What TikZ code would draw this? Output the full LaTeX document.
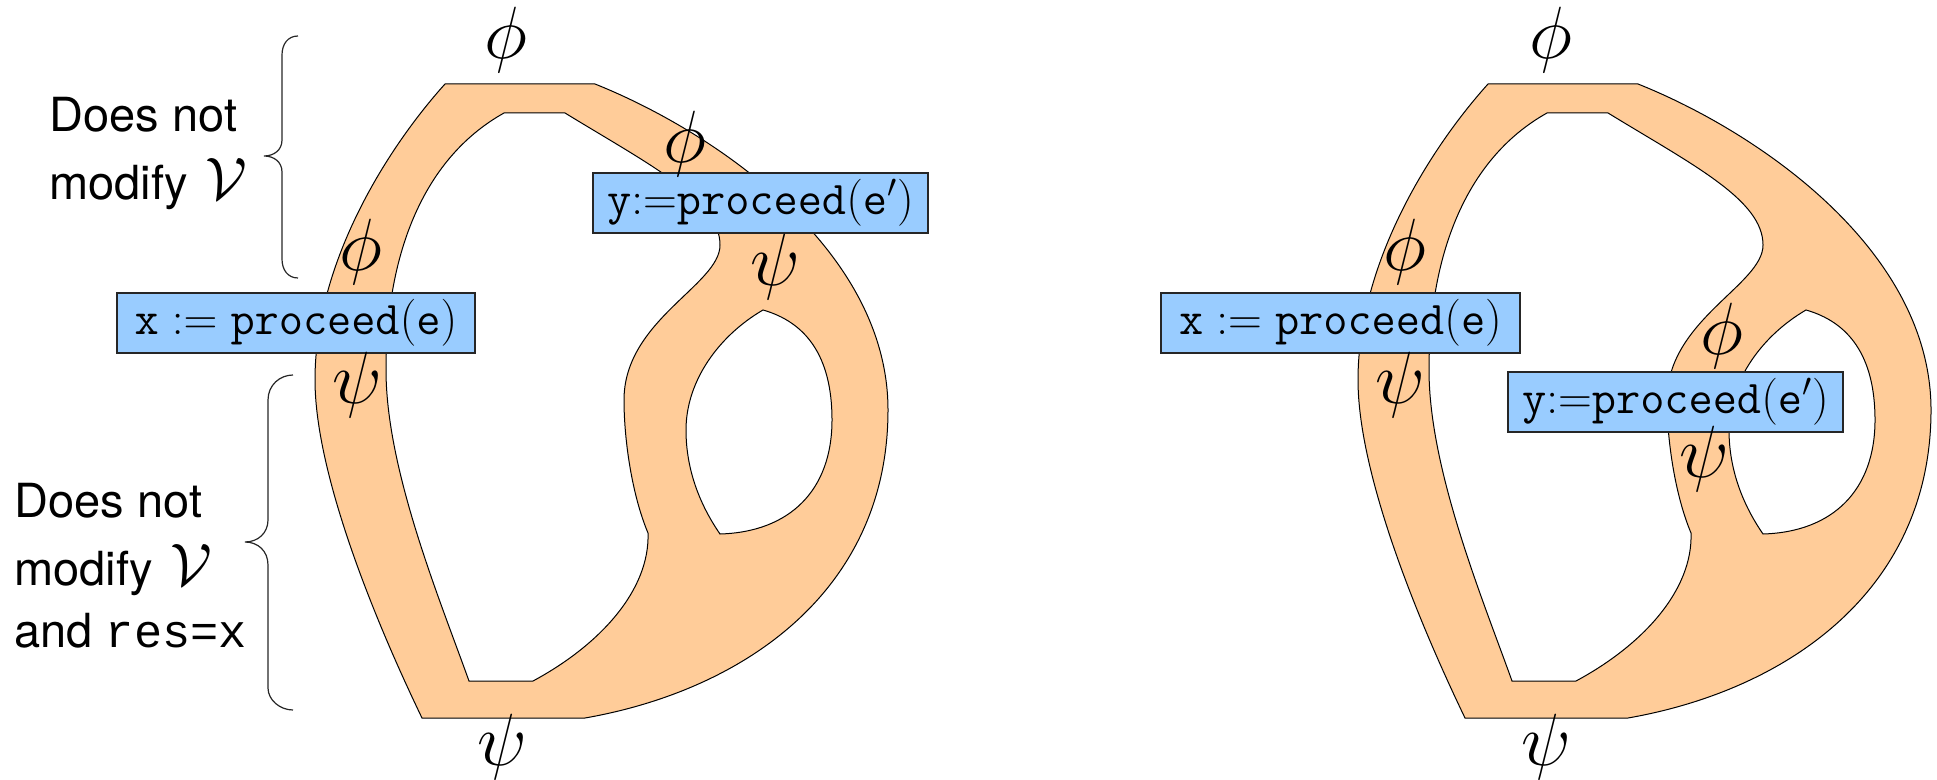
\RequirePackage{fix-cm}
\documentclass[tikz,border=0pt]{standalone}
\usepackage[no-math]{fontspec}
\newfontfamily\helv{TeX Gyre Heros}
\newfontfamily\courfont{Liberation Mono}
\definecolor{bandfill}{RGB}{255,204,153}
\definecolor{boxblue}{RGB}{153,204,255}
\newcommand\calV{\hspace{9pt}{\fontsize{30}{32}\selectfont$\mathcal{V}$}}
\tikzset{
  band/.style={fill=bandfill, draw=black, line width=0.5pt, even odd rule, line join=miter},
  codebox/.style={draw=black!85, fill=boxblue, line width=0.6pt, inner sep=0pt,
    minimum height=30pt, font=\fontsize{23.5}{28}\selectfont},
  greek/.style={inner sep=0pt, font=\fontsize{37}{40}\selectfont},
  sidetext/.style={anchor=base west, inner sep=0pt, font=\fontsize{23.5}{28}\selectfont\helv},
  bracket/.style={draw=black!85, line width=0.6pt}
}
\begin{document}
\begin{tikzpicture}[x=0.5pt, y=-0.5pt]
\useasboundingbox (0,0) rectangle (1937,780);

% the two bands, each with a large and a small hole
\foreach \dx in {0,1043} {
\begin{scope}[shift={(\dx,0)}]
\path[band]
  % outer rim
  (445,84) -- (595,84)
  .. controls (715,132) and (888,250) .. (888,410)
  .. controls (888,590) and (745,690) .. (585,718)
  -- (422,718)
  .. controls (370,610) and (315,470) .. (315,380)
  .. controls (315,260) and (390,145) .. (445,84)
  -- cycle
  % large hole
  (504,113) -- (565,113)
  .. controls (650,165) and (720,200) .. (720,245)
  .. controls (720,285) and (624,320) .. (624,400)
  .. controls (624,440) and (632,495) .. (648,533)
  .. controls (650,590) and (600,645) .. (533,681)
  -- (469,681)
  .. controls (440,600) and (386,470) .. (386,370)
  .. controls (386,260) and (420,160) .. (504,113)
  -- cycle
  % small hole
  (763,310)
  .. controls (805,322) and (832,355) .. (832,420)
  .. controls (832,490) and (790,532) .. (720,534)
  .. controls (700,505) and (686,470) .. (686,430)
  .. controls (686,380) and (720,335) .. (763,310)
  -- cycle;
\end{scope}
}

% proceed boxes
\node[codebox, minimum width=179pt] (procxL) at (296,323) {$\mathtt{x} := \mathtt{proceed}(\mathtt{e})$};
\node[codebox, minimum width=167.5pt] (procyL) at (760.5,203) {$\mathtt{y}{:=}\mathtt{proceed}(\mathtt{e}')$};
\node[codebox, minimum width=179.5pt] (procxR) at (1340.5,323) {$\mathtt{x} := \mathtt{proceed}(\mathtt{e})$};
\node[codebox, minimum width=167.5pt] (procyR) at (1675.5,402) {$\mathtt{y}{:=}\mathtt{proceed}(\mathtt{e}')$};

% formulas on the bands
\node[greek] (phiTopL) at (506,40) {$\phi$};
\node[greek] (phiLeftL) at (361,252) {$\phi$};
\node[greek] (psiLeftL) at (357,385) {$\psi$};
\node[greek] (phiRightL) at (685,144) {$\phi$};
\node[greek] (psiRightL) at (775,267) {$\psi$};
\node[greek] (psiBotL) at (502,747) {$\psi$};
\node[greek] (phiTopR) at (1551,40) {$\phi$};
\node[greek] (phiLeftR) at (1405,252) {$\phi$};
\node[greek] (psiLeftR) at (1400,385) {$\psi$};
\node[greek] (phiRingR) at (1722,336) {$\phi$};
\node[greek] (psiRingR) at (1704,459) {$\psi$};
\node[greek] (psiBotR) at (1546,747) {$\psi$};

% side remarks
\node[sidetext] (upA) at (49,132) {Does not};
\node[sidetext] (upB) at (49,200) {modify\calV};
\node[sidetext] (loA) at (14,517) {Does not};
\node[sidetext] (loB) at (14,585) {modify\calV};
\node[sidetext] (loC) at (14,647) {and {\courfont res=x}};

% braces
\draw[bracket] (298,36) .. controls (288,36) and (282,44) .. (282,55) -- (282,140)
  .. controls (282,150) and (274,156) .. (264,156)
  .. controls (274,156) and (282,162) .. (282,172) -- (282,259)
  .. controls (282,270) and (288,278) .. (298,278);
\draw[bracket] (293,375) .. controls (280,375) and (268,385) .. (268,400) -- (268,520)
  .. controls (268,533) and (258,542) .. (245,542)
  .. controls (258,542) and (268,551) .. (268,565) -- (268,688)
  .. controls (268,700) and (280,710) .. (293,710);
\end{tikzpicture}
\end{document}
